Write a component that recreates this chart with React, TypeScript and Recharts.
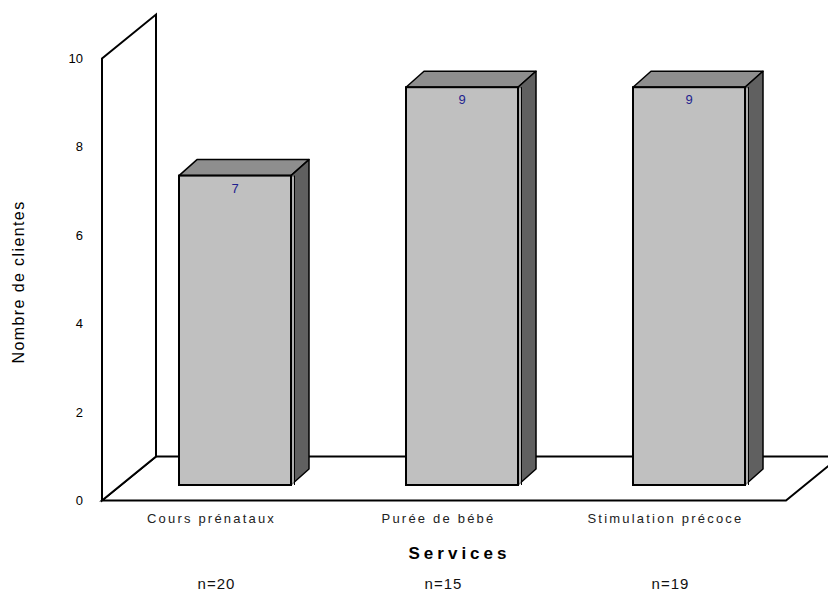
import React from 'react';
import { BarChart, Bar, XAxis, YAxis, ReferenceArea, LabelList } from 'recharts';

// Données
const categories = ['Cours prénataux', 'Purée de bébé', 'Stimulation précoce'];
const clientes = [7, 9, 9];
const effectifs = ['n=20', 'n=15', 'n=19'];
const yTicks = [0, 2, 4, 6, 8, 10];

const data = categories.map((c, i) => ({ service: c, clientes: clientes[i], n: effectifs[i] }));

// profondeur de la "boîte" 3D (plan des barres -> avant / arrière)
const FRONT = { dx: -19, dy: 15.5 };
const BACK = { dx: 35, dy: -28.5 };
const BAR_DEPTH = { dx: 18, dy: -16 };

const font = '"Liberation Sans", Arial, sans-serif';

const Walls = (props: any) => {
  const { x, y, width, height } = props;
  const L = x;
  const R = x + width + 3;
  const T = y;
  const B = y + height;
  const wall = [
    [L + FRONT.dx, T + FRONT.dy],
    [L + BACK.dx, T + BACK.dy],
    [L + BACK.dx, B + BACK.dy],
    [L + FRONT.dx, B + FRONT.dy],
  ];
  const floor = [
    [L + FRONT.dx, B + FRONT.dy],
    [R + FRONT.dx, B + FRONT.dy],
    [R + BACK.dx, B + BACK.dy],
    [L + BACK.dx, B + BACK.dy],
  ];
  const pts = (a: number[][]) => a.map((p) => p.join(',')).join(' ');
  return (
    <g>
      <polygon points={pts(floor)} fill="#fff" stroke="#000" strokeWidth={2} strokeLinejoin="miter" />
      <polygon points={pts(wall)} fill="#fff" stroke="#000" strokeWidth={2} strokeLinejoin="miter" />
    </g>
  );
};

const Bar3D = (props: any) => {
  const { x, y, width, height } = props;
  const { dx, dy } = BAR_DEPTH;
  const top = `${x},${y} ${x + dx},${y + dy} ${x + width + dx},${y + dy} ${x + width},${y}`;
  const side = `${x + width},${y} ${x + width + dx},${y + dy} ${x + width + dx},${y + height + dy} ${x + width},${y + height}`;
  return (
    <g>
      <polygon points={top} fill="#8e8e8e" stroke="#000" strokeWidth={1.5} strokeLinejoin="round" />
      <polygon points={side} fill="#606060" stroke="#000" strokeWidth={1.5} strokeLinejoin="round" />
      <rect x={x} y={y} width={width} height={height} fill="#c0c0c0" stroke="#000" strokeWidth={2} />
      <line x1={x + width + 2} y1={y + 1} x2={x + width + 2} y2={y + height} stroke="#fff" strokeWidth={1} />
      <line x1={x + width + 3.5} y1={y} x2={x + width + 3.5} y2={y + height} stroke="#000" strokeWidth={1} />
    </g>
  );
};

const YTick = (props: any) => {
  const { x, y, payload } = props;
  return (
    <text x={x - 38} y={y + FRONT.dy + 4.5} textAnchor="end" fontSize={13} fontFamily={font} fill="#000">
      {payload.value}
    </text>
  );
};

const XTick = (props: any) => {
  const { x, y, payload, index } = props;
  return (
    <g>
      <text x={x - 23} y={y + 38} textAnchor="middle" fontSize={13} letterSpacing={2.2} fontFamily={font} fill="#222">
        {payload.value}
      </text>
      <text x={x - 18} y={y + 104} textAnchor="middle" fontSize={15} letterSpacing={1} fontFamily={font} fill="#111">
        {effectifs[index]}
      </text>
    </g>
  );
};

const ValueLabel = (props: any) => {
  const { x, y, width, value } = props;
  return (
    <text x={x + width / 2} y={y + 17} textAnchor="middle" fontSize={13} fontFamily={font} fill="#1f1f8f">
      {value}
    </text>
  );
};

const App = () => {
  return (
    <div style={{ position: 'absolute', left: 0, top: 0, width: 828, height: 593, background: '#fff' }}>
      <BarChart width={828} height={593} data={data} margin={{ top: 43, right: 26, left: 61, bottom: 78 }} barSize={112}>
        <XAxis
          dataKey="service"
          height={30}
          axisLine={false}
          tickLine={false}
          tickSize={0}
          tickMargin={0}
          interval={0}
          tick={<XTick />}
          label={({ viewBox }: any) => (
            <text
              x={viewBox.x + viewBox.width / 2 - 2}
              y={viewBox.y + 74}
              textAnchor="middle"
              fontSize={17}
              fontWeight="bold"
              letterSpacing={4}
              fontFamily={font}
              fill="#000"
            >
              Services
            </text>
          )}
        />
        <YAxis
          type="number"
          domain={[0, 10]}
          ticks={yTicks}
          width={60}
          axisLine={false}
          tickLine={false}
          tickSize={0}
          tickMargin={0}
          tick={<YTick />}
          label={({ viewBox }: any) => {
            const cx = 18;
            const cy = viewBox.y + viewBox.height / 2 + 18;
            return (
              <text
                x={cx}
                y={cy}
                transform={`rotate(-90, ${cx}, ${cy})`}
                textAnchor="middle"
                dominantBaseline="central"
                fontSize={16}
                letterSpacing={1.4}
                fontFamily={font}
                fill="#000"
              >
                Nombre de clientes
              </text>
            );
          }}
        />
        <ReferenceArea y1={0} y2={10} shape={<Walls />} />
        <Bar dataKey="clientes" shape={<Bar3D />} isAnimationActive={false}>
          <LabelList dataKey="clientes" content={<ValueLabel />} />
        </Bar>
      </BarChart>
    </div>
  );
};

export default App;
